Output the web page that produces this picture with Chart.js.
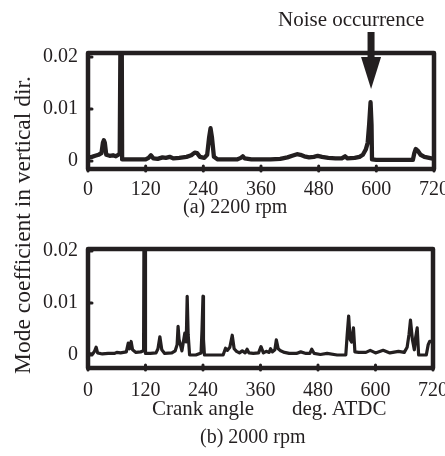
<!DOCTYPE html>
<html>
<head>
<meta charset="utf-8">
<script src="https://cdn.jsdelivr.net/npm/chart.js@4.4.0/dist/chart.umd.min.js"></script>
<style>
    body { margin: 0; width: 445px; height: 456px; overflow: hidden; background: #fff; position: relative; }
    canvas { position: absolute; left: 0; }
    .txt { position: absolute; font-family: 'Liberation Serif', 'Times New Roman', serif; color: #231f20; white-space: pre; z-index: 5; }
</style>
</head>
<body>

<canvas id="chart2200" width="480" height="230" style="top:0px"></canvas>
<canvas id="chart2000" width="480" height="260" style="top:196px"></canvas>

<div class="txt" style="left:278px; top:9px; font-size:21px; line-height:21px;">Noise occurrence</div>
<div class="txt" style="left:183px; top:196px; font-size:20px; line-height:20px;">(a) 2200 rpm</div>
<div class="txt" style="left:152px; top:398px; font-size:21px; line-height:21px;">Crank angle</div>
<div class="txt" style="left:292px; top:398px; font-size:21px; line-height:21px;">deg. ATDC</div>
<div class="txt" style="left:200px; top:426px; font-size:20px; line-height:20px;">(b) 2000 rpm</div>
<div class="txt" style="left:-148px; top:213px; width:340px; text-align:center; font-size:23.5px; line-height:24px; transform:rotate(-90deg);">Mode coefficient in vertical dir.</div>

<script>
// (a) 2200 rpm
var angle2200 = [0, 8, 15, 22, 28, 31, 33, 35, 38, 45, 52, 58, 63, 66, 68, 70, 71, 80, 100, 120, 126, 131, 136, 145,
    155, 162, 170, 178, 190, 205, 215, 222, 227, 233, 242, 248, 252, 255, 258, 262, 270, 290, 310, 318, 322, 326,
    340, 360, 380, 400, 415, 425, 435, 442, 450, 460, 470, 478, 487, 500, 515, 528, 535, 540, 555, 565, 572, 578,
    582, 585, 588, 590, 591, 600, 640, 676, 679, 682, 686, 692, 700, 710, 720];
var coef2200 = [0.0007, 0.0008, 0.0010, 0.0012, 0.0015, 0.0035, 0.0040, 0.0035, 0.0012, 0.0010, 0.0011, 0.0009, 0.0012, 0.0014, 0.03, 0.03, 0.0003, 0.0003, 0.0003, 0.0003, 0.0006, 0.0011, 0.0005, 0.0004,
    0.0007, 0.0006, 0.0008, 0.0005, 0.0006, 0.0008, 0.0011, 0.0016, 0.0015, 0.0008, 0.0006, 0.0012, 0.0045, 0.0063, 0.0045, 0.0008, 0.0003, 0.0003, 0.0003, 0.0006, 0.0009, 0.0005,
    0.0003, 0.0003, 0.0003, 0.0004, 0.0007, 0.0010, 0.0013, 0.0012, 0.0009, 0.0007, 0.0008, 0.0010, 0.0008, 0.0006, 0.0005, 0.0005, 0.0009, 0.0005, 0.0006, 0.0008, 0.0012, 0.0022,
    0.0035, 0.0070, 0.0113, 0.0070, 0.0003, 0.0002, 0.0002, 0.0002, 0.0015, 0.0023, 0.0020, 0.0012, 0.0008, 0.0006, 0.0004];

// (b) 2000 rpm
var angle2000 = [0, 10, 14, 17, 20, 30, 42, 55, 60, 68, 74, 80, 84, 87, 90, 93, 100, 110, 116, 117, 119, 120, 130, 142,
    146, 150, 154, 160, 175, 182, 186, 188, 190, 196, 199, 202, 205, 207, 209, 212, 225, 236, 238, 240, 241, 243,
    260, 282, 287, 291, 296, 301, 305, 310, 316, 322, 328, 332, 336, 345, 356, 361, 366, 372, 378, 381, 385, 390,
    393, 397, 402, 410, 420, 435, 444, 455, 463, 467, 472, 485, 499, 520, 538, 541, 544, 547, 550, 554, 557, 565,
    580, 589, 600, 616, 630, 648, 660, 666, 670, 673, 677, 681, 684, 687, 690, 700, 706, 710, 713, 720];
var coef2000 = [0.0002, 0.0002, 0.0008, 0.0015, 0.0004, 0.0002, 0.0003, 0.0003, 0.0005, 0.0004, 0.0005, 0.0006, 0.0023, 0.0012, 0.0026, 0.0010, 0.0005, 0.0006, 0.0008, 0.03, 0.03, 0.0003, 0.0003, 0.0004,
    0.0012, 0.0035, 0.0010, 0.0003, 0.0004, 0.0008, 0.0020, 0.0055, 0.0030, 0.0008, 0.0025, 0.0042, 0.0025, 0.0113, 0.0040, 0.0000, 0.0000, 0.0004, 0.0050, 0.0113, 0.0030, 0.0000,
    0.0000, 0.0000, 0.0013, 0.0009, 0.0015, 0.0038, 0.0012, 0.0007, 0.0004, 0.0008, 0.0004, 0.0011, 0.0004, 0.0003, 0.0004, 0.0016, 0.0004, 0.0007, 0.0005, 0.0012, 0.0006, 0.0010,
    0.0029, 0.0012, 0.0008, 0.0005, 0.0003, 0.0003, 0.0006, 0.0003, 0.0003, 0.0011, 0.0003, 0.0001, 0.0003, 0.0000, 0.0000, 0.0040, 0.0075, 0.0030, 0.0025, 0.0052, 0.0006, 0.0005,
    0.0005, 0.0009, 0.0004, 0.0009, 0.0004, 0.0007, 0.0005, 0.0015, 0.0040, 0.0067, 0.0030, 0.0010, 0.0035, 0.0052, 0.0000, 0.0000, 0.0000, 0.0020, 0.0026, 0.0026];

var angleTicks = [0, 120, 240, 360, 480, 600, 720];
var coefTicks = [0, 0.01, 0.02];

var ink = '#231f20';

// thick box round the plot plus the little inward tick marks
const framePlugin = {
    id: 'frame',
    afterDatasetsDraw(chart) {
        const ctx = chart.ctx;
        const a = chart.chartArea;
        ctx.save();
        ctx.strokeStyle = ink;
        ctx.lineJoin = 'round';
        ctx.lineCap = 'round';
        ctx.lineWidth = 4.5;
        ctx.strokeRect(a.left, a.top, a.right - a.left, a.bottom - a.top);
        ctx.lineWidth = 3;
        coefTicks.forEach(v => {
            const y = chart.scales.y.getPixelForValue(v);
            ctx.beginPath(); ctx.moveTo(a.left, y); ctx.lineTo(a.left + 4, y); ctx.stroke();
        });
        angleTicks.forEach(v => {
            const x = chart.scales.x.getPixelForValue(v);
            ctx.beginPath(); ctx.moveTo(x, a.bottom + 2); ctx.lineTo(x, a.bottom - 3); ctx.stroke();
        });
        ctx.restore();
    }
};

// arrow pointing at the noise peak
const arrowPlugin = {
    id: 'arrow',
    afterDraw(chart) {
        const ctx = chart.ctx;
        const x = chart.scales.x.getPixelForValue(589);
        ctx.save();
        ctx.fillStyle = ink;
        ctx.fillRect(x - 3.5, 32, 7, 26);
        ctx.beginPath();
        ctx.moveTo(x - 10, 57);
        ctx.lineTo(x + 10, 57);
        ctx.lineTo(x, 89);
        ctx.closePath();
        ctx.fill();
        ctx.restore();
    }
};

function makeChart(id, angles, coefs, lw, yMin, yMax, padRight, xHeight, xPad, extra) {
    const points = angles.map((a, i) => ({ x: a, y: coefs[i] }));
    return new Chart(document.getElementById(id), {
        type: 'line',
        data: {
            datasets: [{
                data: points,
                borderColor: ink,
                borderWidth: lw,
                pointRadius: 0,
                tension: 0,
                borderCapStyle: 'round',
                borderJoinStyle: 'round',
                fill: false
            }]
        },
        options: {
            responsive: false,
            animation: false,
            events: [],
            layout: { padding: { top: 53, right: padRight, bottom: 0, left: 0 } },
            plugins: { legend: { display: false }, tooltip: { enabled: false } },
            scales: {
                x: {
                    type: 'linear',
                    min: 0,
                    max: 720,
                    afterBuildTicks: s => { s.ticks = angleTicks.map(v => ({ value: v })); },
                    afterFit: s => { s.height = xHeight; },
                    grid: { display: false, drawTicks: false },
                    border: { display: false },
                    ticks: {
                        padding: xPad,
                        color: ink,
                        maxRotation: 0,
                        autoSkip: false,
                        font: { family: 'Liberation Serif', size: 20 },
                        callback: v => String(v)
                    }
                },
                y: {
                    type: 'linear',
                    min: yMin,
                    max: yMax,
                    afterBuildTicks: s => { s.ticks = coefTicks.map(v => ({ value: v })); },
                    afterFit: s => { s.width = 88; },
                    grid: { display: false, drawTicks: false },
                    border: { display: false },
                    ticks: {
                        padding: 10,
                        color: ink,
                        font: { family: 'Liberation Serif', size: 20 },
                        callback: v => (v === 0 ? '0' : v.toFixed(2))
                    }
                }
            }
        },
        plugins: [framePlugin].concat(extra)
    });
}

makeChart('chart2200', angle2200, coef2200, 4.3, -0.00154, 0.02077, 46, 61, 9, [arrowPlugin]);
makeChart('chart2000', angle2000, coef2000, 3.2, -0.0025, 0.02038, 47, 88, 11, []);
</script>
</body>
</html>
